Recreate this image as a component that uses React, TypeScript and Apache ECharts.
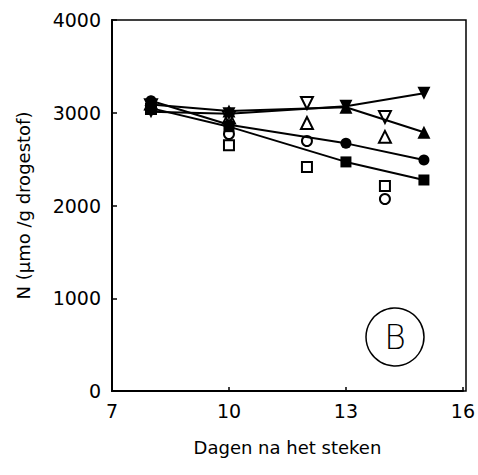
import React, { useEffect, useRef } from "react";
import * as echarts from "echarts";

const xTicks = [7, 10, 13, 16];
const yTicks = [0, 1000, 2000, 3000, 4000];

const filledDays = [8, 10, 13, 15];
const filledDown = [3010, 2990, 3070, 3210];
const filledUp = [3090, 3020, 3060, 2790];
const filledCircle = [3130, 2870, 2670, 2490];
const filledSquare = [3050, 2850, 2470, 2275];

const openDays = [8, 10, 12, 14];
const openDown = [3080, 2950, 3105, 2955];
const openUp = [3100, 2950, 2890, 2740];
const openCircle = [3070, 2770, 2695, 2070];
const openSquare = [3040, 2650, 2415, 2210];

const FONT = "DejaVu Sans";

function pairs(xs: number[], ys: number[]) {
  return xs.map((x, i) => [x, ys[i]]);
}

export default function App() {
  const ref = useRef<HTMLDivElement>(null);
  useEffect(() => {
    if (!ref.current) return;
    const chart = echarts.init(ref.current, undefined, { renderer: "svg" });
    const filledSeries = (data: number[], symbol: string, rotate = 0, size = 11) => ({
      type: "line",
      data: pairs(filledDays, data),
      symbol,
      symbolRotate: rotate,
      symbolSize: size,
      lineStyle: { color: "#000", width: 2 },
      itemStyle: { color: "#000", borderColor: "#000", borderWidth: 0 },
      z: 3,
    });
    const openSeries = (data: number[], symbol: string, rotate = 0, size = 10) => ({
      type: "scatter",
      data: pairs(openDays, data),
      symbol,
      symbolRotate: rotate,
      symbolSize: size,
      itemStyle: { color: "#fff", borderColor: "#000", borderWidth: 2, opacity: 1 },
      z: 2,
    });
    chart.setOption({
      animation: false,
      backgroundColor: "#fff",
      grid: { left: 112, right: 12, top: 20, bottom: 84 },
      xAxis: {
        type: "value",
        min: 7,
        max: 16,
        interval: 3,
        name: "Dagen na het steken",
        nameLocation: "middle",
        nameGap: 47,
        nameTextStyle: { fontFamily: FONT, fontSize: 18, color: "#000" },
        axisLine: { show: true, onZero: false, lineStyle: { color: "#000", width: 2 } },
        axisTick: { show: true, inside: true, length: 4, lineStyle: { color: "#000", width: 1.5 } },
        axisLabel: {
          fontFamily: FONT,
          fontSize: 19,
          color: "#000",
          margin: 10,
          formatter: (v: number) => (xTicks.includes(v) ? String(v) : ""),
        },
        splitLine: { show: false },
      },
      yAxis: {
        type: "value",
        min: 0,
        max: 4000,
        interval: 1000,
        name: "N (µmo /g drogestof)",
        nameLocation: "middle",
        nameRotate: 90,
        nameGap: 80,
        nameTextStyle: { fontFamily: FONT, fontSize: 18, color: "#000" },
        axisLine: { show: true, onZero: false, lineStyle: { color: "#000", width: 2 } },
        axisTick: { show: true, inside: true, length: 5, lineStyle: { color: "#000", width: 1.5 } },
        axisLabel: {
          fontFamily: FONT,
          fontSize: 19,
          color: "#000",
          margin: 11,
          formatter: (v: number) => (yTicks.includes(v) ? String(v) : ""),
        },
        splitLine: { show: false },
      },
      graphic: [
        {
          type: "rect",
          shape: { x: 112, y: 20, width: 354, height: 371 },
          style: { fill: "none", stroke: "#000", lineWidth: 1.5 },
          silent: true,
          z: 0,
        },
        {
          type: "circle",
          shape: { cx: 395, cy: 337, r: 29 },
          style: { fill: "none", stroke: "#000", lineWidth: 1.5 },
          z: 10,
        },
        {
          type: "text",
          x: 395,
          y: 337,
          style: {
            text: "B",
            fontFamily: FONT,
            fontSize: 33,
            fontWeight: 200,
            fill: "#000",
            align: "center",
            verticalAlign: "middle",
          },
          z: 10,
        },
      ],
      series: [
        openSeries(openSquare, "rect"),
        openSeries(openCircle, "circle"),
        openSeries(openUp, "triangle", 0, 12),
        openSeries(openDown, "triangle", 180, 12),
        filledSeries(filledSquare, "rect"),
        filledSeries(filledCircle, "circle"),
        filledSeries(filledUp, "triangle", 0, 13),
        filledSeries(filledDown, "triangle", 180, 13),
      ],
    });
    return () => chart.dispose();
  }, []);
  return <div ref={ref} style={{ width: 478, height: 475, position: "absolute", left: 0, top: 0 }} />;
}
